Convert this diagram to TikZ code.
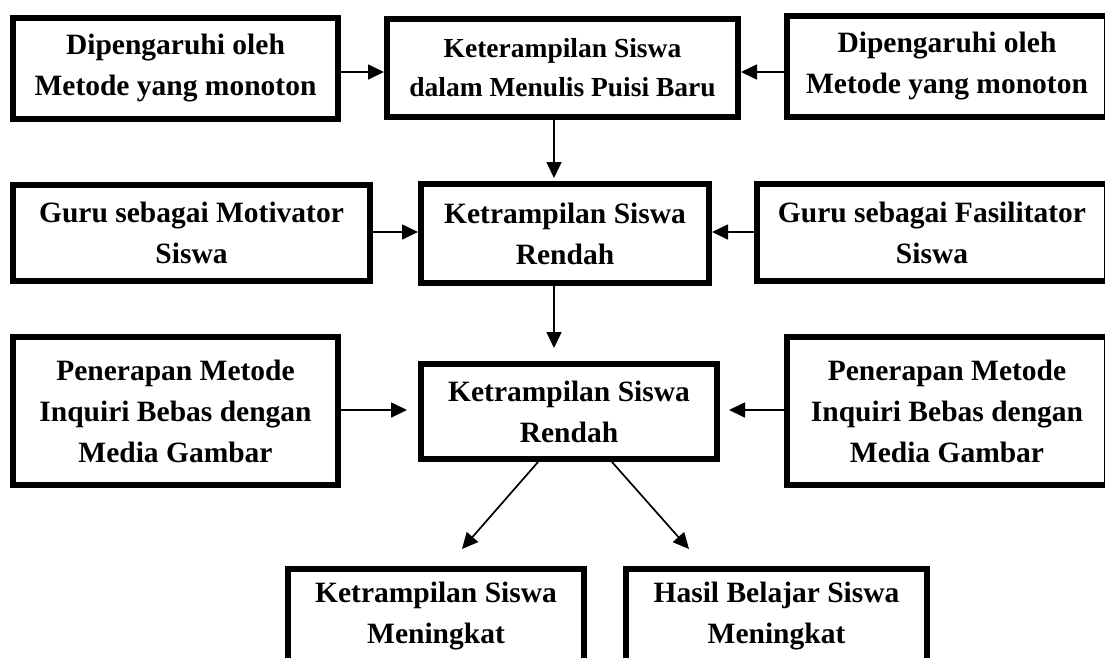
\documentclass[tikz,border=0pt]{standalone}
\usepackage{fontspec}
\setmainfont{Liberation Serif}
\usetikzlibrary{arrows.meta}
\begin{document}
\begin{tikzpicture}[x=1pt,y=-1pt,
  box/.style={draw, line width=6pt, inner sep=0pt, align=center,
    font=\bfseries\fontsize{29.5}{41}\selectfont},
  smallbox/.style={box, font=\bfseries\fontsize{27.5}{39}\selectfont},
  arr/.style={line width=1.7pt, -{Triangle[length=16pt,width=15pt]}}]
\useasboundingbox (0,0) rectangle (1105,657);
\node[box, minimum width=325pt, minimum height=101pt] (l1) at (175.5,68.5) {Dipengaruhi oleh\\Metode yang monoton};
\node[smallbox, minimum width=351pt, minimum height=98pt] (c1) at (562.5,68) {Keterampilan Siswa\\dalam Menulis Puisi Baru};
\node[box, minimum width=320pt, minimum height=101pt] (r1) at (947,66.5) {Dipengaruhi oleh\\Metode yang monoton};
\node[box, minimum width=357pt, minimum height=96pt] (l2) at (191.5,233) {Guru sebagai Motivator\\Siswa};
\node[box, minimum width=288pt, minimum height=99pt] (c2) at (565,233.5) {Ketrampilan Siswa\\Rendah};
\node[box, minimum width=350pt, minimum height=97pt] (r2) at (932,232.5) {Guru sebagai Fasilitator\\Siswa};
\node[box, minimum width=325pt, minimum height=148pt] (l3) at (175.5,411) {Penerapan Metode\\Inquiri Bebas dengan\\Media Gambar};
\node[box, minimum width=296pt, minimum height=95pt] (c3) at (569,411.5) {Ketrampilan Siswa\\Rendah};
\node[box, minimum width=320pt, minimum height=148pt] (r3) at (947,411) {Penerapan Metode\\Inquiri Bebas dengan\\Media Gambar};
\node[box, minimum width=296pt, minimum height=94pt] (b1) at (436,616) {Ketrampilan Siswa\\Meningkat};
\node[box, minimum width=301pt, minimum height=94pt] (b2) at (776.5,616) {Hasil Belajar Siswa\\Meningkat};
\coordinate (y1) at (0,72);
\coordinate (y2) at (0,232);
\coordinate (y3) at (0,410);
\coordinate (xd) at (554,0);
\coordinate (e3l) at (407,410);
\coordinate (e3r) at (729,410);
\coordinate (e1d) at (554,178);
\coordinate (e2d) at (554,348);
\coordinate (s3l) at (538,462);
\coordinate (s3r) at (612,462);
\coordinate (t3l) at (462,549);
\coordinate (t3r) at (689,549);
\draw[arr] (l1.east |- y1) -- (c1.west |- y1);
\draw[arr] (r1.west |- y1) -- (c1.east |- y1);
\draw[arr] (c1.south -| xd) -- (e1d);
\draw[arr] (l2.east |- y2) -- (c2.west |- y2);
\draw[arr] (r2.west |- y2) -- (c2.east |- y2);
\draw[arr] (c2.south -| xd) -- (e2d);
\draw[arr] (l3.east |- y3) -- (e3l);
\draw[arr] (r3.west |- y3) -- (e3r);
\draw[arr] (s3l) -- (t3l);
\draw[arr] (s3r) -- (t3r);
\end{tikzpicture}
\end{document}
